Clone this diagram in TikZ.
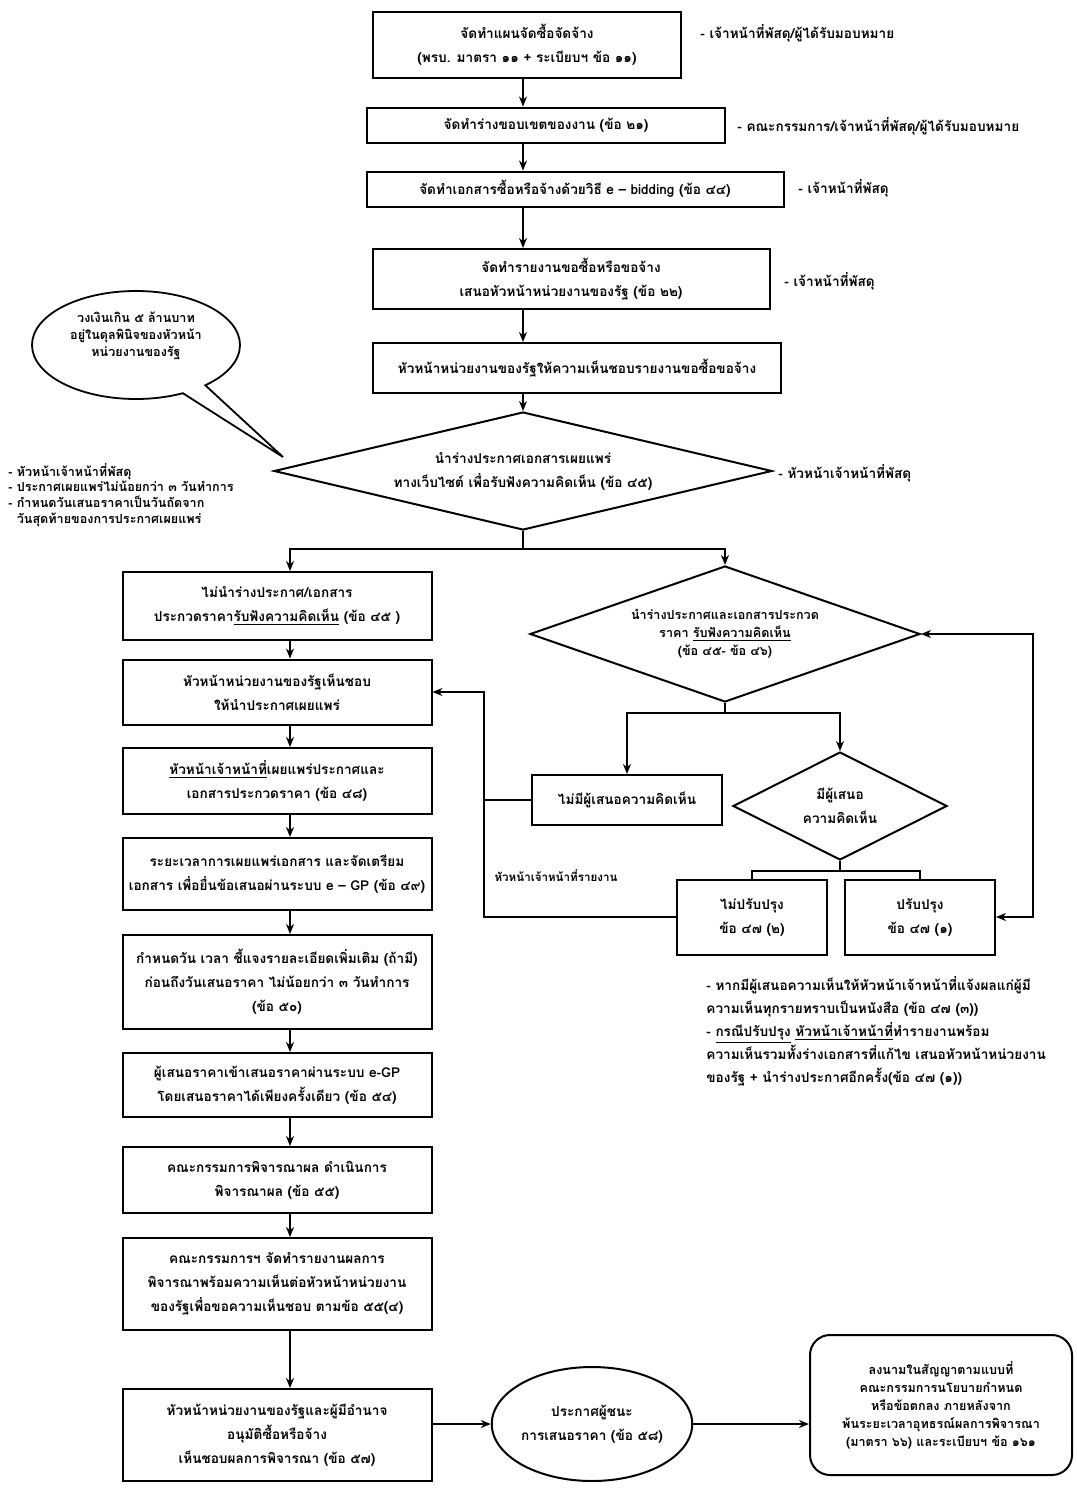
\documentclass[tikz,border=0pt]{standalone}
\usepackage{fontspec}
\newfontfamily\thai[Script=Thai]{Loma}
\usetikzlibrary{arrows.meta,shapes.geometric,shapes.callouts}

\begin{document}
\begin{tikzpicture}[x=0.5pt,y=-0.5pt,
  >={Stealth[length=5pt,width=4pt]},
  every node/.style={font=\thai\bfseries\fontsize{6.8}{12}\selectfont},
  stepbox/.style={draw,line width=1pt,align=center,inner sep=1pt},
  choice/.style={draw,diamond,line width=1pt,align=center,inner sep=0pt},
  note/.style={anchor=west,align=left,inner sep=0pt},
  link/.style={line width=0.75pt}]

  % page
  \fill[white] (0,0) rectangle (1076,1488);
  \useasboundingbox (0,0) rectangle (1076,1488);

  % main column
  \node[stepbox,minimum width=154pt,minimum height=33pt] (plan) at (527,45)
    {จัดทำแผนจัดซื้อจัดจ้าง\\(พรบ. มาตรา ๑๑ + ระเบียบฯ ข้อ ๑๑)};
  \node[stepbox,minimum width=179pt,minimum height=17.5pt] (tor) at (546,125)
    {จัดทำร่างขอบเขตของงาน (ข้อ ๒๑)};
  \node[stepbox,minimum width=208.5pt,minimum height=17.5pt] (doc) at (575,189)
    {จัดทำเอกสารซื้อหรือจ้างด้วยวิธี e – bidding (ข้อ ๔๔)};
  \node[stepbox,minimum width=198.5pt,minimum height=30pt] (report) at (571,279)
    {จัดทำรายงานขอซื้อหรือขอจ้าง\\เสนอหัวหน้าหน่วยงานของรัฐ (ข้อ ๒๒)};
  \node[stepbox,minimum width=204pt,minimum height=25pt] (approve) at (577,368)
    {หัวหน้าหน่วยงานของรัฐให้ความเห็นชอบรายงานขอซื้อขอจ้าง};
  \node[choice,aspect=4.2,minimum width=249pt,minimum height=59pt] (draft) at (523,471)
    {นำร่างประกาศเอกสารเผยแพร่\\ทางเว็บไซต์ เพื่อรับฟังความคิดเห็น (ข้อ ๔๕)};

  % who does it
  \node[note] (plannote) at (700,33) {- เจ้าหน้าที่พัสดุ/ผู้ได้รับมอบหมาย};
  \node[note] (tornote) at (737,126) {- คณะกรรมการ/เจ้าหน้าที่พัสดุ/ผู้ได้รับมอบหมาย};
  \node[note] (docnote) at (798,188) {- เจ้าหน้าที่พัสดุ};
  \node[note] (reportnote) at (784,281) {- เจ้าหน้าที่พัสดุ};
  \node[note] (draftnote) at (778,473) {- หัวหน้าเจ้าหน้าที่พัสดุ};

  % speech bubble
  \node[draw,ellipse callout,line width=0.9pt,align=center,inner sep=0pt,
    minimum width=104pt,minimum height=54pt,
    callout absolute pointer={(283,457)},
    font=\thai\bfseries\fontsize{6.3}{8.5}\selectfont] (limit) at (136,345)
    {วงเงินเกิน ๕ ล้านบาท\\อยู่ในดุลพินิจของหัวหน้า\\หน่วยงานของรัฐ\\[2pt]};

  \node[note,anchor=north west,font=\thai\bfseries\fontsize{6.3}{7.8}\selectfont] (rules) at (8,463)
    {- หัวหน้าเจ้าหน้าที่พัสดุ\\- ประกาศเผยแพร่ไม่น้อยกว่า ๓ วันทำการ\\- กำหนดวันเสนอราคาเป็นวันถัดจาก\\\phantom{- }วันสุดท้ายของการประกาศเผยแพร่};

  % left column
  \coordinate (lc) at (290,0);
  \node[stepbox,minimum width=154.5pt,minimum height=34pt] (skip) at (277,606)
    {ไม่นำร่างประกาศ/เอกสาร\\ประกวดราคา\underline{รับฟังความคิดเห็น} (ข้อ ๔๕ )};
  \node[stepbox,minimum width=154.5pt,minimum height=32.5pt] (agree) at (277,692)
    {หัวหน้าหน่วยงานของรัฐเห็นชอบ\\ให้นำประกาศเผยแพร่};
  \node[stepbox,minimum width=154.5pt,minimum height=33pt] (publish) at (277,781)
    {\underline{หัวหน้าเจ้าหน้าที่}เผยแพร่ประกาศและ\\เอกสารประกวดราคา (ข้อ ๔๘)};
  \node[stepbox,minimum width=154.5pt,minimum height=36pt] (period) at (277,874)
    {ระยะเวลาการเผยแพร่เอกสาร และจัดเตรียม\\เอกสาร เพื่อยื่นข้อเสนอผ่านระบบ e – GP (ข้อ ๔๙)};
  \node[stepbox,minimum width=154.5pt,minimum height=47pt] (explain) at (277,982)
    {กำหนดวัน เวลา ชี้แจงรายละเอียดเพิ่มเติม (ถ้ามี)\\ก่อนถึงวันเสนอราคา ไม่น้อยกว่า ๓ วันทำการ\\(ข้อ ๕๐)};
  \node[stepbox,minimum width=154.5pt,minimum height=32pt] (bid) at (277,1085)
    {ผู้เสนอราคาเข้าเสนอราคาผ่านระบบ e-GP\\โดยเสนอราคาได้เพียงครั้งเดียว (ข้อ ๕๔)};
  \node[stepbox,minimum width=154.5pt,minimum height=33pt] (judge) at (277,1180)
    {คณะกรรมการพิจารณาผล ดำเนินการ\\พิจารณาผล (ข้อ ๕๕)};
  \node[stepbox,minimum width=154.5pt,minimum height=46pt] (summary) at (277,1284)
    {คณะกรรมการฯ จัดทำรายงานผลการ\\พิจารณาพร้อมความเห็นต่อหัวหน้าหน่วยงาน\\ของรัฐเพื่อขอความเห็นชอบ ตามข้อ ๕๕(๔)};
  \node[stepbox,minimum width=154.5pt,minimum height=46pt] (final) at (277,1435)
    {หัวหน้าหน่วยงานของรัฐและผู้มีอำนาจ\\อนุมัติซื้อหรือจ้าง\\เห็นชอบผลการพิจารณา (ข้อ ๕๗)};

  % right branch
  \node[choice,aspect=2.87,minimum width=195pt,minimum height=68pt,
    font=\thai\bfseries\fontsize{6.3}{9}\selectfont] (hear) at (725,634)
    {นำร่างประกาศและเอกสารประกวด\\ราคา \underline{รับฟังความคิดเห็น}\\(ข้อ ๔๕- ข้อ ๔๖)};
  \node[stepbox,minimum width=95pt,minimum height=25pt] (nocom) at (627,800)
    {ไม่มีผู้เสนอความคิดเห็น};
  \node[choice,aspect=1.98,minimum width=107pt,minimum height=54pt] (hasc) at (840,806)
    {มีผู้เสนอ\\ความคิดเห็น};
  \node[stepbox,minimum width=75pt,minimum height=37.5pt] (keep) at (752,917)
    {ไม่ปรับปรุง\\ข้อ ๔๗ (๒)};
  \node[stepbox,minimum width=75pt,minimum height=37.5pt] (revise) at (920,917)
    {ปรับปรุง\\ข้อ ๔๗ (๑)};
  \node[font=\thai\bfseries\fontsize{5.8}{7}\selectfont,inner sep=0pt] (tell) at (556,876)
    {หัวหน้าเจ้าหน้าที่รายงาน};
  \node[note,anchor=north west,font=\thai\bfseries\fontsize{6.8}{11.5}\selectfont] (fixnote) at (706,976)
    {- หากมีผู้เสนอความเห็นให้หัวหน้าเจ้าหน้าที่แจ้งผลแก่ผู้มี\\ความเห็นทุกรายทราบเป็นหนังสือ (ข้อ ๔๗ (๓))\\- \underline{กรณีปรับปรุง} \underline{หัวหน้าเจ้าหน้าที่}ทำรายงานพร้อม\\ความเห็นรวมทั้งร่างเอกสารที่แก้ไข เสนอหัวหน้าหน่วยงาน\\ของรัฐ + นำร่างประกาศอีกครั้ง(ข้อ ๔๗ (๑))};

  % bottom row
  \node[draw,ellipse,line width=1pt,align=center,inner sep=0pt,
    minimum width=77.5pt,minimum height=57pt] (winner) at (592,1424)
    {ประกาศผู้ชนะ\\การเสนอราคา (ข้อ ๕๘)};
  \node[stepbox,rounded corners=10pt,minimum width=131pt,minimum height=70pt,
    font=\thai\bfseries\fontsize{6.3}{9}\selectfont] (sign) at (941,1405)
    {ลงนามในสัญญาตามแบบที่\\คณะกรรมการนโยบายกำหนด\\หรือข้อตกลง ภายหลังจาก\\พ้นระยะเวลาอุทธรณ์ผลการพิจารณา\\(มาตรา ๖๖) และระเบียบฯ ข้อ ๑๖๑};

  % arrows of the main column
  \foreach \a/\b in {plan/tor,tor/doc,doc/report,report/approve,approve/draft}
    \draw[link,->] (\a.south -| draft.north) -- (\b.north -| draft.north);

  % split after the draft
  \draw[link] (draft.south) -- ++(0,18) coordinate (fork);
  \draw[link,->] (fork) -| (skip.north -| lc);
  \draw[link,->] (fork) -| (hear.north);

  % arrows of the left column
  \foreach \a/\b in {skip/agree,agree/publish,publish/period,period/explain,
                     explain/bid,bid/judge,judge/summary,summary/final}
    \draw[link,->] (\a.south -| lc) -- (\b.north -| lc);

  % right branch
  \draw[link] (hear.south) -- ++(0,10) coordinate (fork2);
  \draw[link,->] (fork2) -| (nocom.north);
  \draw[link,->] (fork2) -| (hasc.north);
  \draw[link] (hasc.south) -- ++(0,10) coordinate (fork3);
  \draw[link] (keep.north) -- (keep.north |- fork3) -- (revise.north |- fork3) -- (revise.north);
  \draw[link,<->] (revise.east) -- ++(37,0) coordinate (loop) -- (loop |- hear.east) -- (hear.east);

  % back to the left column
  \coordinate (back) at (484,0);
  \draw[link,->] (keep.west) -- (keep.west -| back) -- (back |- agree.east) -- (agree.east);
  \draw[link] (nocom.west) -- (nocom.west -| back);

  % winner and contract
  \draw[link,->] (final.east |- winner.west) -- (winner.west);
  \draw[link,->] (winner.east) -- (winner.east -| sign.west);

\end{tikzpicture}
\end{document}
